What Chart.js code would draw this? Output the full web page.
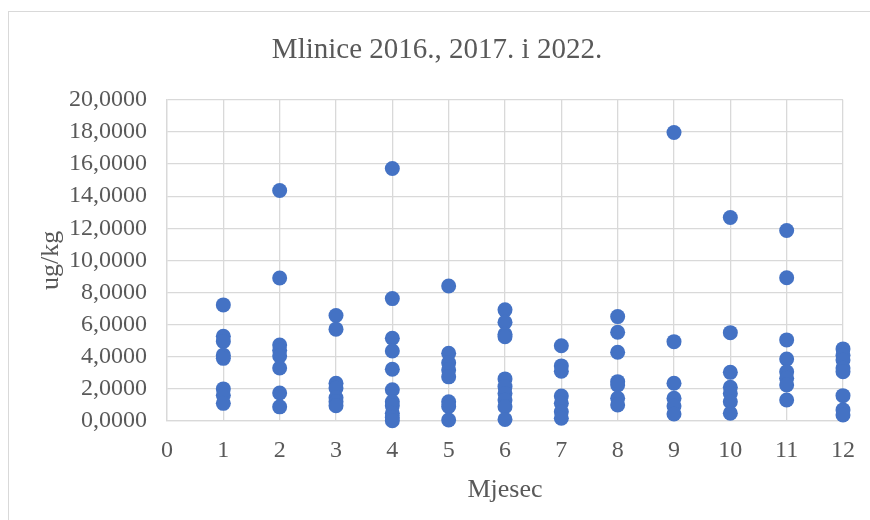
<!DOCTYPE html>
<html>
<head>
<meta charset="utf-8">
<script src="https://cdn.jsdelivr.net/npm/chart.js@4/dist/chart.umd.min.js"></script>
<style>
    body { margin: 0; background: #fff; overflow: hidden; }
    #wrap { position: relative; width: 870px; height: 520px; }
    #frame { position: absolute; left: 8px; top: 11px; width: 900px; height: 600px; border: 1px solid #d9d9d9; pointer-events: none; }
</style>
</head>
<body>
<div id="wrap">
    <canvas id="scatterChart" width="870" height="520"></canvas>
    <div id="frame"></div>
</div>
<script>
// vrijednosti po mjesecima (ug/kg)
const mjesec1 = [7.23, 5.28, 4.95, 4.10, 3.90, 2.00, 1.60, 1.10];
const mjesec2 = [14.35, 8.90, 4.73, 4.40, 4.05, 3.30, 1.74, 0.88];
const mjesec3 = [6.57, 5.72, 2.35, 2.05, 1.45, 1.20, 0.95];
const mjesec4 = [15.72, 7.62, 5.15, 4.36, 3.22, 1.95, 1.20, 0.95, 0.48, 0.22, 0.02];
const mjesec5 = [8.41, 4.22, 3.62, 3.18, 2.75, 1.20, 0.90, 0.06];
const mjesec6 = [6.92, 6.15, 5.40, 5.25, 2.62, 2.14, 1.72, 1.31, 0.89, 0.10];
const mjesec7 = [4.69, 3.43, 3.10, 1.56, 1.10, 0.58, 0.17];
const mjesec8 = [6.50, 5.53, 4.28, 2.45, 2.24, 1.41, 1.00];
const mjesec9 = [17.96, 4.94, 2.35, 1.41, 0.93, 0.44];
const mjesec10 = [12.67, 5.50, 3.03, 2.10, 1.72, 1.20, 0.48];
const mjesec11 = [11.86, 8.92, 5.05, 3.86, 3.07, 2.66, 2.24, 1.31];
const mjesec12 = [4.49, 4.10, 3.80, 3.30, 3.07, 1.58, 0.69, 0.37];

const mjeseci = [1, 2, 3, 4, 5, 6, 7, 8, 9, 10, 11, 12];
const vrijednosti = [mjesec1, mjesec2, mjesec3, mjesec4, mjesec5, mjesec6,
    mjesec7, mjesec8, mjesec9, mjesec10, mjesec11, mjesec12];

const naslov = 'Mlinice 2016., 2017. i 2022.';
const gray = '#595959';
const serif = "'Liberation Serif', 'Times New Roman', serif";

// parovi (mjesec, vrijednost)
const tocke = [];
mjeseci.forEach((m, i) => {
    vrijednosti[i].forEach(v => tocke.push({ x: m, y: v }));
});

const ctx = document.getElementById('scatterChart').getContext('2d');
new Chart(ctx, {
    type: 'scatter',
    data: {
        datasets: [{
            data: tocke,
            backgroundColor: '#4472C4',
            borderWidth: 0,
            pointRadius: 7.5,
            pointHoverRadius: 7.5,
            clip: false
        }]
    },
    options: {
        responsive: false,
        animation: false,
        layout: { padding: { left: 30, right: 26, top: 0, bottom: 0 } },
        plugins: {
            legend: { display: false },
            tooltip: { enabled: false },
            title: {
                display: true,
                text: naslov,
                color: gray,
                font: { family: serif, size: 29, weight: 'normal' },
                padding: { top: 33, bottom: 32 }
            }
        },
        scales: {
            x: {
                type: 'linear',
                min: 0,
                max: 12,
                afterFit: s => { s.height = 99; },
                ticks: { stepSize: 1, color: gray, padding: 15, font: { family: serif, size: 24 } },
                grid: { color: '#d9d9d9', lineWidth: 1.3, drawTicks: false },
                border: { color: '#d9d9d9', width: 1.3 },
                title: {
                    display: true,
                    text: 'Mjesec',
                    color: gray,
                    font: { family: serif, size: 26 },
                    padding: { top: 0, bottom: 14 }
                }
            },
            y: {
                min: 0,
                max: 20,
                afterFit: s => { s.width = 137; },
                ticks: {
                    stepSize: 2,
                    color: gray,
                    padding: 20,
                    font: { family: serif, size: 24 },
                    callback: v => v.toFixed(4).replace('.', ',')
                },
                grid: { color: '#d9d9d9', lineWidth: 1.3, drawTicks: false },
                border: { color: '#d9d9d9', width: 1.3 },
                title: {
                    display: true,
                    text: 'ug/kg',
                    color: gray,
                    font: { family: serif, size: 26 },
                    padding: { top: 6, bottom: 0 }
                }
            }
        }
    }
});
</script>
</body>
</html>
